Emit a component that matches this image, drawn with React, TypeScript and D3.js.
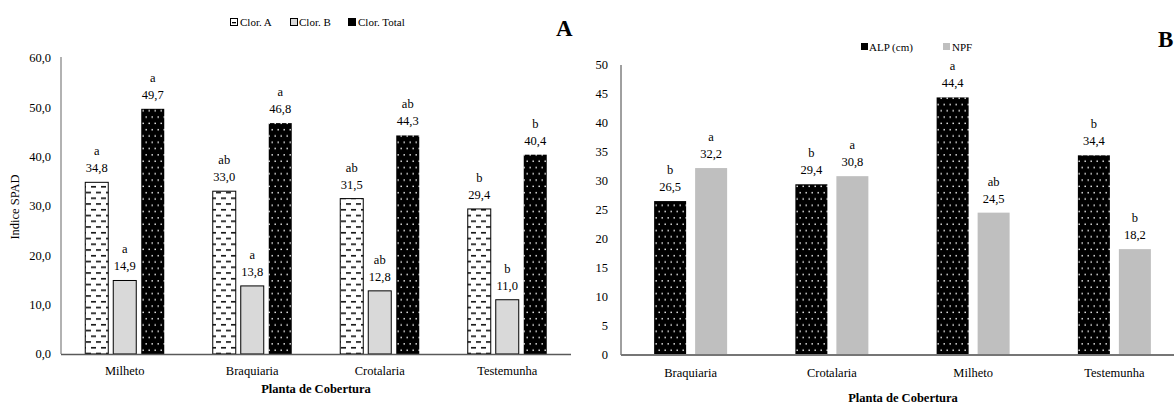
import React from "react";
import * as d3 from "d3";

// Panel A data
const catsA = ["Milheto", "Braquiaria", "Crotalaria", "Testemunha"];
const seriesA = ["Clor. A", "Clor. B", "Clor. Total"];
const clorA = [34.8, 33.0, 31.5, 29.4];
const clorB = [14.9, 13.8, 12.8, 11.0];
const clorT = [49.7, 46.8, 44.3, 40.4];
const letA_A = ["a", "ab", "ab", "b"];
const letA_B = ["a", "a", "ab", "b"];
const letA_T = ["a", "a", "ab", "b"];
const ticksA = [0, 10, 20, 30, 40, 50, 60];

// Panel B data
const catsB = ["Braquiaria", "Crotalaria", "Milheto", "Testemunha"];
const seriesB = ["ALP (cm)", "NPF"];
const alp = [26.5, 29.4, 44.4, 34.4];
const npf = [32.2, 30.8, 24.5, 18.2];
const letB_ALP = ["b", "b", "a", "b"];
const letB_NPF = ["a", "a", "ab", "b"];
const ticksB = [0, 5, 10, 15, 20, 25, 30, 35, 40, 45, 50];

const FONT = "Liberation Serif, DejaVu Serif, serif";
const fmt = (v: number) => v.toFixed(1).replace(".", ",");

export default function App() {
  const xA = d3.scaleBand<string>().domain(catsA).range([61, 571]).padding(0);
  const yA = d3.scaleLinear().domain([0, 60]).range([354, 58]);
  const innerA = d3.scaleBand<string>().domain(seriesA).range([-39.5, 39.5]).paddingInner(5 / 28).paddingOuter(0);
  const valsA = [clorA, clorB, clorT];
  const letsA = [letA_A, letA_B, letA_T];
  const fillsA = ["url(#dashPat)", "#d9d9d9", "url(#dotPat)"];
  const strokesA = ["#000", "#000", "none"];

  const xB = d3.scaleBand<string>().domain(catsB).range([620, 1185]).padding(0);
  const yB = d3.scaleLinear().domain([0, 50]).range([354.5, 65]);
  const innerB = d3.scaleBand<string>().domain(seriesB).range([-36.5, 36.5]).paddingInner(9 / 41).paddingOuter(0);
  const valsB = [alp, npf];
  const letsB = [letB_ALP, letB_NPF];
  const fillsB = ["url(#dotPat)", "#bfbfbf"];

  const ts = { fontFamily: FONT };

  return (
    <svg
      width={1174}
      height={408}
      style={{ position: "absolute", left: 0, top: 0, display: "block", background: "#fff", fontFamily: FONT }}
    >
      <defs>
        <pattern id="dashPat" patternUnits="userSpaceOnUse" width={10} height={11.5}>
          <rect width={10} height={11.5} fill="#fff" />
          <rect x={1} y={2} width={5} height={1.5} fill="#000" />
          <rect x={6} y={7.75} width={5} height={1.5} fill="#000" />
          <rect x={-4} y={7.75} width={5} height={1.5} fill="#000" />
        </pattern>
        <pattern id="dotPat" patternUnits="userSpaceOnUse" width={6} height={12.6}>
          <rect width={6} height={12.6} fill="#000" />
          <rect x={1.5} y={3} width={1.4} height={1.4} fill="#ffffff" />
          <rect x={4.5} y={9.3} width={1.4} height={1.4} fill="#ffffff" />
        </pattern>
      </defs>

      {/* ===== Panel A ===== */}
      <g fontSize={11} style={ts}>
        <rect x={230.5} y={18.5} width={7} height={7} fill="#fff" stroke="#000" strokeWidth={1} />
        <rect x={232} y={22} width={4} height={1.3} fill="#000" />
        <text x={240} y={26} style={ts}>{seriesA[0]}</text>
        <rect x={290.5} y={18.5} width={7} height={7} fill="#d9d9d9" stroke="#000" strokeWidth={1} />
        <text x={299} y={26} style={ts}>{seriesA[1]}</text>
        <rect x={348} y={18} width={8} height={8} fill="#000" />
        <text x={358} y={26} style={ts}>{seriesA[2]}</text>
      </g>
      <text x={556} y={36} fontSize={23} fontWeight="bold" style={ts}>A</text>

      <g fontSize={12.5} textAnchor="end">
        {ticksA.map((t) => (
          <text key={t} x={51} y={yA(t)} dy="0.35em" style={ts}>{fmt(t)}</text>
        ))}
      </g>
      <text transform={`translate(19,207) rotate(-90)`} textAnchor="middle" fontSize={12.5} style={ts}>
        Indice SPAD
      </text>

      {catsA.map((c, i) => (
        <g key={c}>
          {seriesA.map((s, j) => {
            const v = valsA[j][i];
            const x0 = xA(c)! + xA.bandwidth() / 2 + innerA(s)!;
            const w = innerA.bandwidth();
            const top = yA(v);
            return (
              <g key={s}>
                <rect x={x0} y={top} width={w} height={yA(0) - top} fill={fillsA[j]} stroke={strokesA[j]} strokeWidth={1} />
                <text x={x0 + w / 2} y={top - 10} textAnchor="middle" fontSize={12.5} style={ts}>{fmt(v)}</text>
                <text x={x0 + w / 2} y={top - 27} textAnchor="middle" fontSize={12.5} style={ts}>{letsA[j][i]}</text>
              </g>
            );
          })}
          <text x={xA(c)! + xA.bandwidth() / 2} y={375} textAnchor="middle" fontSize={12.5} style={ts}>{c}</text>
        </g>
      ))}
      <line x1={61} x2={61} y1={57} y2={354} stroke="#7f7f7f" strokeWidth={1.2} />
      <line x1={61} x2={571} y1={354.5} y2={354.5} stroke="#595959" strokeWidth={1.3} />
      <text x={316} y={393} textAnchor="middle" fontSize={12.5} fontWeight="bold" style={ts}>Planta de Cobertura</text>

      {/* ===== Panel B ===== */}
      <g fontSize={11}>
        <rect x={861} y={43} width={7} height={7} fill="#000" />
        <text x={869} y={51} style={ts}>{seriesB[0]}</text>
        <rect x={943} y={43} width={7} height={7} fill="#bfbfbf" />
        <text x={952} y={51} style={ts}>{seriesB[1]}</text>
      </g>
      <text x={1158} y={47} fontSize={23} fontWeight="bold" style={ts}>B</text>

      <g fontSize={12.5} textAnchor="end">
        {ticksB.map((t) => (
          <text key={t} x={608} y={yB(t)} dy="0.35em" style={ts}>{t}</text>
        ))}
      </g>

      {catsB.map((c, i) => (
        <g key={c}>
          {seriesB.map((s, j) => {
            const v = valsB[j][i];
            const x0 = xB(c)! + xB.bandwidth() / 2 + innerB(s)!;
            const w = innerB.bandwidth();
            const top = yB(v);
            return (
              <g key={s}>
                <rect x={x0} y={top} width={w} height={yB(0) - top} fill={fillsB[j]} />
                <text x={x0 + w / 2} y={top - 10} textAnchor="middle" fontSize={12.5} style={ts}>{fmt(v)}</text>
                <text x={x0 + w / 2} y={top - 27} textAnchor="middle" fontSize={12.5} style={ts}>{letsB[j][i]}</text>
              </g>
            );
          })}
          <text x={xB(c)! + xB.bandwidth() / 2} y={377} textAnchor="middle" fontSize={12.5} style={ts}>{c}</text>
        </g>
      ))}
      <line x1={621} x2={621} y1={65} y2={355} stroke="#404040" strokeWidth={1} />
      <line x1={621} x2={1174} y1={355} y2={355} stroke="#767676" strokeWidth={1.8} />
      <text x={903} y={402} textAnchor="middle" fontSize={12.5} fontWeight="bold" style={ts}>Planta de Cobertura</text>
    </svg>
  );
}
